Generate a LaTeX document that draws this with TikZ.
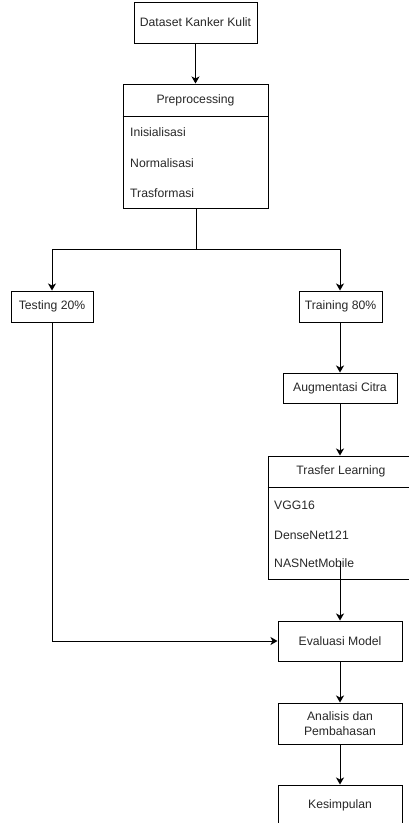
\documentclass[tikz,border=0pt]{standalone}
\usepackage{fontspec}
\setmainfont{Liberation Sans}
\usetikzlibrary{arrows.meta}
\definecolor{txt}{RGB}{40,40,40}
\begin{document}
\begin{tikzpicture}[x=1pt,y=-1pt,
  every node/.style={font=\fontsize{12.2}{15}\selectfont,text=txt,inner sep=0pt},
  box/.style={draw=black,line width=1pt,fill=white,minimum width=#1,align=center},
  item/.style={anchor=west},
  conn/.style={draw=black,line width=1pt,-{Stealth[length=7pt,width=8pt,inset=2pt]}},
  plain/.style={draw=black,line width=1pt}]
\useasboundingbox (0,0) rectangle (409,823);
% boxes
\node[box=123pt,minimum height=41pt] (data) at (195.5,22.5) {Dataset Kanker Kulit};
\node[box=145pt,minimum height=124pt] (prep) at (195.5,146) {};
\draw[plain] (prep.west |- 0,116) coordinate (ph) -- (prep.east |- 0,116);
\node (preptitle) at (195.5,100) {Preprocessing};
\node[item] (i1) at (130,132) {Inisialisasi};
\node[item] (i2) at (130,163) {Normalisasi};
\node[item] (i3) at (130,193) {Trasformasi};

\node[box=82pt,minimum height=31pt] (test) at (52,306.5) {Testing 20\%};
\node[box=83pt,minimum height=31pt] (train) at (340.5,306.5) {Training 80\%};
\node[box=114pt,minimum height=30pt] (aug) at (340,388) {Augmentasi Citra};

\node[box=146pt,minimum height=123pt] (trans) at (341,517.5) {};
\draw[plain] (trans.west |- 0,487) -- (trans.east |- 0,487);
\node (transtitle) at (341,471) {Trasfer Learning};
\node[item] (t1) at (274,505) {VGG16};
\node[item] (t2) at (274,535) {DenseNet121};
\node[item] (t3) at (274,563) {NASNetMobile};

\node[box=124pt,minimum height=40pt] (eval) at (340,641) {Evaluasi Model};
\node[box=124pt,minimum height=41pt] (anal) at (340,723.5) {Analisis dan\\Pembahasan};
\node[box=124pt,minimum height=41pt] (kes) at (340,805.5) {Kesimpulan};

% connectors
\coordinate (split) at (196,249);
\coordinate (col) at (340,0);
\coordinate (tsrc) at (340,561);
\draw[conn] (data) -- (prep);
\draw[plain] (prep.south -| split) -- (split);
\draw[conn] (split) -| (test.north);
\draw[conn] (split) -| (col |- train.north);
\draw[conn] (train.south -| col) -- (aug.north -| col);
\draw[conn] (aug.south -| col) -- (trans.north -| col);
\draw[conn] (tsrc) -- (eval.north -| tsrc);
\draw[conn] (test.south) |- (eval.west);
\draw[conn] (eval) -- (anal);
\draw[conn] (anal) -- (kes);
\end{tikzpicture}
\end{document}
